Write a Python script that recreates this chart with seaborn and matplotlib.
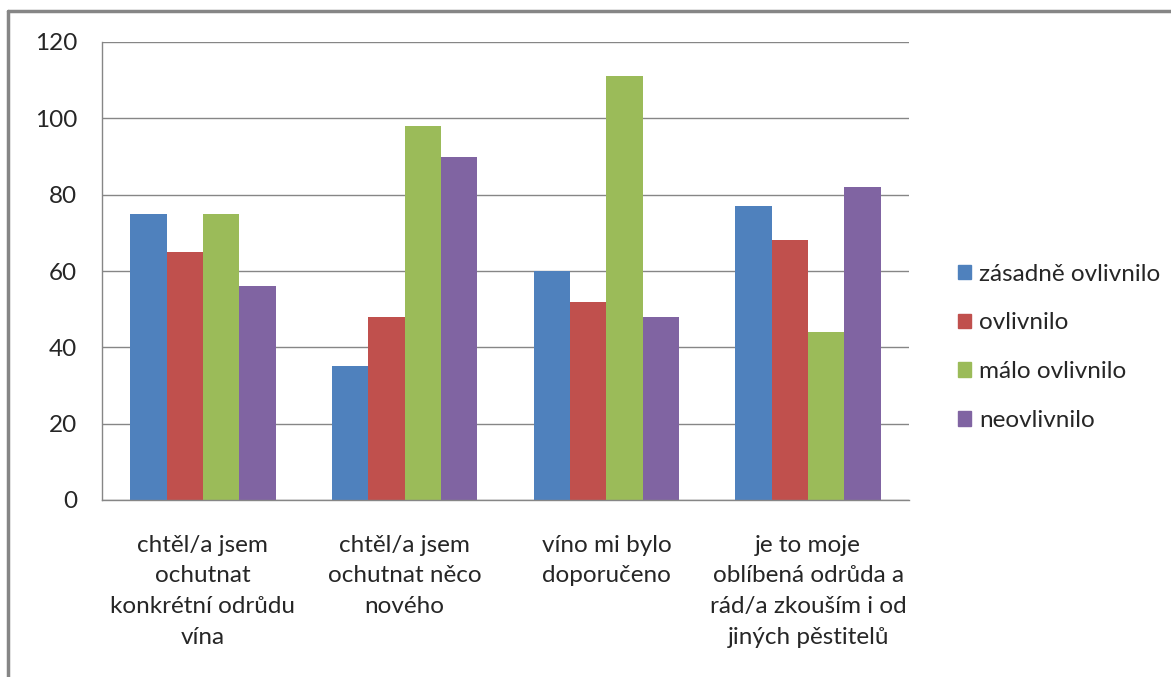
import pandas as pd
import matplotlib.pyplot as plt
import seaborn as sns
from matplotlib.lines import Line2D
from matplotlib.ticker import FixedLocator

# categories (reasons) and their wrapped tick labels
categories = [
    'chtěl/a jsem ochutnat konkrétní odrůdu vína',
    'chtěl/a jsem ochutnat něco nového',
    'víno mi bylo doporučeno',
    'je to moje oblíbená odrůda a rád/a zkouším i od jiných pěstitelů',
]
tick_labels = [
    'chtěl/a jsem\nochutnat\nkonkrétní odrůdu\nvína',
    'chtěl/a jsem\nochutnat něco\nnového',
    'víno mi bylo\ndoporučeno',
    'je to moje\noblíbená odrůda a\nrád/a zkouším i od\njiných pěstitelů',
]
series_names = ['zásadně ovlivnilo', 'ovlivnilo', 'málo ovlivnilo', 'neovlivnilo']
zasadne = [75, 35, 60, 77]
ovlivnilo = [65, 48, 52, 68]
malo = [75, 98, 111, 44]
neovlivnilo = [56, 90, 48, 82]
colors = ['#4F81BD', '#C0504D', '#9BBB59', '#8064A2']

# long format table for seaborn
rows = []
for name, vals in zip(series_names, [zasadne, ovlivnilo, malo, neovlivnilo]):
    for cat, v in zip(categories, vals):
        rows.append(dict(category=cat, series=name, value=v))
df = pd.DataFrame(rows)

sns.set_style('white')
plt.rcParams['font.family'] = ['Lato', 'DejaVu Sans']

fig = plt.figure(figsize=(11.71, 6.77), dpi=100)
ax = fig.add_axes([102 / 1171, 1 - 500 / 677, (909 - 102) / 1171, (500 - 42) / 677])

sns.barplot(data=df, x='category', y='value', hue='series', order=categories,
            hue_order=series_names, palette=colors, width=0.72, saturation=1,
            linewidth=0, ax=ax)

grid_col = '#868686'
fs = 17.5
ax.set_ylim(0, 120)
ax.set_yticks(range(0, 121, 20))
ax.set_xlim(-0.5, len(categories) - 0.5)
ax.yaxis.grid(True, color=grid_col, linewidth=1)
ax.set_axisbelow(True)
for s in ['top', 'right']:
    ax.spines[s].set_visible(False)
for s in ['left', 'bottom']:
    ax.spines[s].set_color(grid_col)
    ax.spines[s].set_linewidth(1)

ax.set_xticks(range(len(categories)))
ax.set_xticklabels(tick_labels, fontsize=fs, linespacing=1.57)
ax.xaxis.set_minor_locator(FixedLocator([i - 0.5 for i in range(len(categories) + 1)]))
ax.tick_params(axis='x', which='major', length=0, pad=25)
ax.tick_params(axis='x', which='minor', length=7, color=grid_col, width=1)
ax.tick_params(axis='y', length=6, color=grid_col, width=1, pad=12, labelsize=fs)
ax.set_xlabel('')
ax.set_ylabel('')

# legend on the right, square markers
handles = [plt.Rectangle((0, 0), 1, 1, color=c) for c in colors]
ax.legend(handles, series_names, loc='center left', bbox_to_anchor=(0.799, 0.487),
          bbox_transform=fig.transFigure, frameon=False, fontsize=fs,
          handlelength=0.55, handleheight=0.55, handletextpad=0.33, labelspacing=1.14)

# outer chart frame (top and left edge only visible)
fig.add_artist(Line2D([8 / 1171, 1], [1 - 11 / 677] * 2, transform=fig.transFigure,
                      color=grid_col, linewidth=2.5))
fig.add_artist(Line2D([8 / 1171] * 2, [0, 1 - 11 / 677], transform=fig.transFigure,
                      color=grid_col, linewidth=2.5))

fig.savefig('out.png', dpi=100)
